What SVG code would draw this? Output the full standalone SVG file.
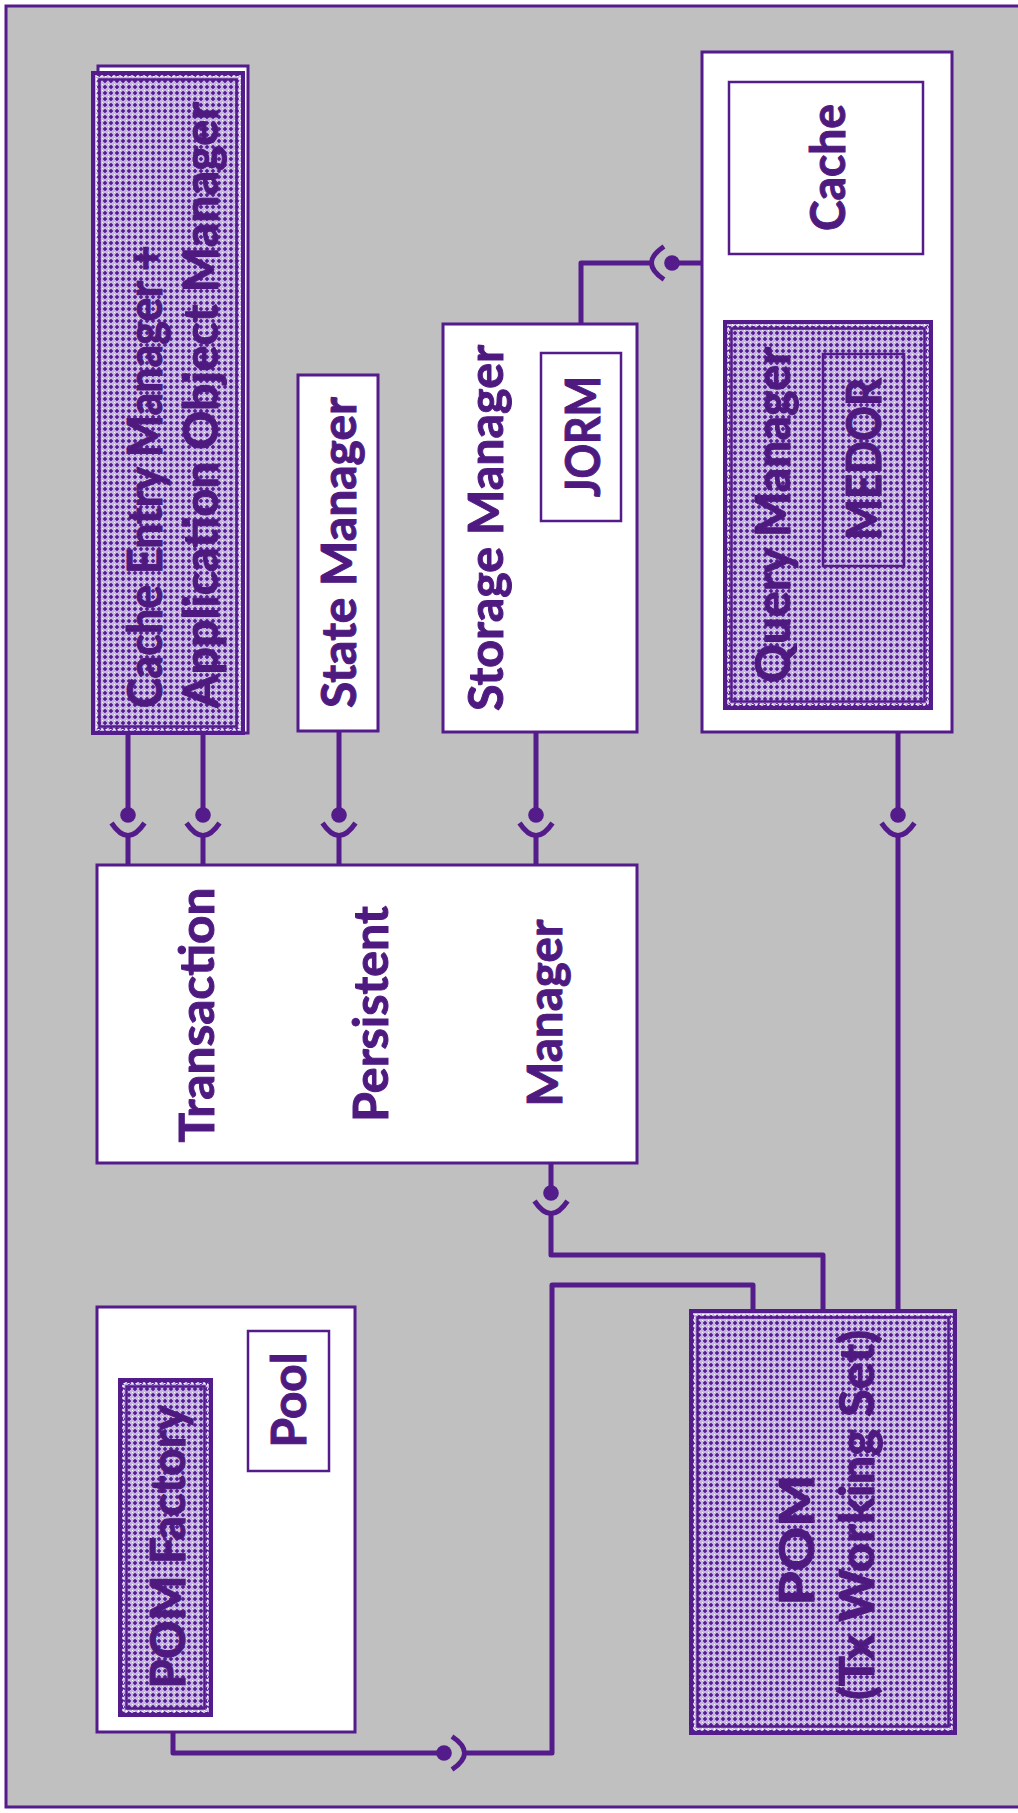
<svg xmlns="http://www.w3.org/2000/svg" xmlns:xlink="http://www.w3.org/1999/xlink" width="1018" height="1813" viewBox="0 0 1018 1813">
  <style>
    .box { fill: #ffffff; stroke: #541b8b; stroke-width: 3; }
    .hx { fill: url(#hatch); stroke: #541b8b; stroke-width: 4; }
    .hx-dash { fill: none; stroke: #ffffff; stroke-width: 1; stroke-dasharray: 2 2; }
    .hx-in { fill: none; stroke: #541b8b; stroke-width: 2.5; }
    .sub { fill: none; stroke: #541b8b; stroke-width: 2.5; }
    .wire { fill: none; stroke: #541b8b; stroke-width: 5; stroke-linejoin: round; }
    .lbl { font-family: Lato, "Open Sans", "Liberation Sans", sans-serif; font-weight: bold; font-size: 48px; fill: #4f1a80; stroke: #4f1a80; stroke-width: 1; }
  </style>
  <defs>
    <pattern id="hatch" width="6" height="6" patternUnits="userSpaceOnUse">
      <rect width="6" height="6" fill="#c6b4e2"/>
      <rect x="2" y="1" width="2" height="4" fill="#6c38a8"/>
      <rect x="1" y="2" width="4" height="2" fill="#6c38a8"/>
      <rect x="2" y="2" width="2" height="2" fill="#53208a"/>
      <rect x="0" y="0" width="1" height="1" fill="#ffffff"/>
    </pattern>
    <!-- ball-and-socket: ball at origin, socket opening toward it from +y -->
    <g id="sock">
      <circle cx="0" cy="0" r="7.8" fill="#541b8b"/>
      <path d="M-16.5,8 Q0,33 16.5,8" fill="none" stroke="#541b8b" stroke-width="5" stroke-linecap="butt"/>
    </g>
  </defs>

  <!-- frame -->
  <rect x="6" y="6" width="1030" height="1801" fill="#c0c0c0" stroke="#541b8b" stroke-width="3"/>

  <!-- connectors -->
  <g id="connectors">
    <path class="wire" d="M128,733 V815 M128,835 V865"/>
    <path class="wire" d="M203,733 V815 M203,835 V865"/>
    <path class="wire" d="M339,731 V815 M339,835 V865"/>
    <path class="wire" d="M536,732 V815 M536,835 V865"/>
    <path class="wire" d="M898,732 V815 M898,835 V1311"/>
    <path class="wire" d="M551,1163 V1193 M551,1212 V1255 H823 V1311"/>
    <path class="wire" d="M173,1732 V1753 H444 M463,1753 H552 V1285 H753 V1311"/>
    <path class="wire" d="M702,263 H672 M653,263 H581 V324"/>
    <use xlink:href="#sock" transform="translate(128,815)"/>
    <use xlink:href="#sock" transform="translate(203,815)"/>
    <use xlink:href="#sock" transform="translate(339,815)"/>
    <use xlink:href="#sock" transform="translate(536,815)"/>
    <use xlink:href="#sock" transform="translate(898,815)"/>
    <use xlink:href="#sock" transform="translate(551,1193)"/>
    <use xlink:href="#sock" transform="translate(444,1753) rotate(-90)"/>
    <use xlink:href="#sock" transform="translate(672,263) rotate(90)"/>
  </g>

  <!-- cache entry manager + application object manager -->
  <g id="cache-entry-manager">
    <rect class="box" x="98" y="66" width="150" height="667"/>
    <rect class="hx" x="93" y="73" width="150" height="660"/>
    <rect class="hx-dash" x="96.5" y="76.5" width="143" height="653"/>
    <rect class="hx-in" x="99.5" y="79.5" width="137" height="647"/>
    <text class="lbl" transform="translate(145,708) rotate(-90)" dy="0.36em" textLength="463" lengthAdjust="spacingAndGlyphs">Cache Entry Manager +</text>
    <text class="lbl" transform="translate(201,708) rotate(-90)" dy="0.36em" textLength="606" lengthAdjust="spacingAndGlyphs">Application Object Manager</text>
  </g>

  <g id="state-manager">
    <rect class="box" x="298" y="375" width="80" height="356"/>
    <text class="lbl" transform="translate(339,552.5) rotate(-90)" dy="0.36em" text-anchor="middle" textLength="311" lengthAdjust="spacingAndGlyphs">State Manager</text>
  </g>

  <g id="storage-manager">
    <rect class="box" x="443" y="324" width="194" height="408"/>
    <text class="lbl" transform="translate(486,528) rotate(-90)" dy="0.36em" text-anchor="middle" textLength="366" lengthAdjust="spacingAndGlyphs">Storage Manager</text>
    <g id="jorm">
      <rect class="sub" x="541" y="353" width="80" height="168"/>
      <text class="lbl" transform="translate(583,436.5) rotate(-90)" dy="0.36em" text-anchor="middle" textLength="121" lengthAdjust="spacingAndGlyphs">JORM</text>
    </g>
  </g>

  <g id="cache-module">
    <rect class="box" x="702" y="52" width="250" height="680"/>
    <g id="cache">
      <rect class="sub" x="729" y="82" width="194" height="172"/>
      <text class="lbl" transform="translate(828,167.5) rotate(-90)" dy="0.36em" text-anchor="middle" textLength="127" lengthAdjust="spacingAndGlyphs">Cache</text>
    </g>
    <g id="query-manager">
      <rect class="hx" x="725" y="322" width="206" height="386"/>
      <rect class="hx-dash" x="728.5" y="325.5" width="199" height="379"/>
      <rect class="hx-in" x="731.5" y="328.5" width="193" height="373"/>
      <text class="lbl" transform="translate(773,515) rotate(-90)" dy="0.36em" text-anchor="middle" textLength="336" lengthAdjust="spacingAndGlyphs">Query Manager</text>
      <g id="medor">
        <rect class="sub" x="823" y="354" width="81" height="212"/>
        <text class="lbl" transform="translate(864,459) rotate(-90)" dy="0.36em" text-anchor="middle" textLength="162" lengthAdjust="spacingAndGlyphs">MEDOR</text>
      </g>
    </g>
  </g>

  <g id="transaction-persistent-manager">
    <rect class="box" x="97" y="865" width="540" height="298"/>
    <text class="lbl" transform="translate(197,1015) rotate(-90)" dy="0.36em" text-anchor="middle" textLength="255" lengthAdjust="spacingAndGlyphs">Transaction</text>
    <text class="lbl" transform="translate(371,1014) rotate(-90)" dy="0.36em" text-anchor="middle" textLength="216" lengthAdjust="spacingAndGlyphs">Persistent</text>
    <text class="lbl" transform="translate(545,1013) rotate(-90)" dy="0.36em" text-anchor="middle" textLength="187" lengthAdjust="spacingAndGlyphs">Manager</text>
  </g>

  <g id="pom-factory-module">
    <rect class="box" x="97" y="1307" width="258" height="425"/>
    <g id="pool">
      <rect class="sub" x="248" y="1331" width="81" height="140"/>
      <text class="lbl" transform="translate(289,1400) rotate(-90)" dy="0.36em" text-anchor="middle" textLength="95" lengthAdjust="spacingAndGlyphs">Pool</text>
    </g>
    <g id="pom-factory">
      <rect class="hx" x="120" y="1380" width="91" height="335"/>
      <rect class="hx-dash" x="123.5" y="1383.5" width="84" height="328"/>
      <rect class="hx-in" x="126.5" y="1386.5" width="78" height="322"/>
      <text class="lbl" transform="translate(168,1547) rotate(-90)" dy="0.36em" text-anchor="middle" textLength="283" lengthAdjust="spacingAndGlyphs">POM Factory</text>
    </g>
  </g>

  <g id="pom">
    <rect class="hx" x="691" y="1311" width="264" height="422"/>
    <rect class="hx-dash" x="694.5" y="1314.5" width="257" height="415"/>
    <rect class="hx-in" x="697.5" y="1317.5" width="251" height="409"/>
    <text class="lbl" transform="translate(797,1540) rotate(-90)" dy="0.36em" text-anchor="middle" textLength="131" lengthAdjust="spacingAndGlyphs">POM</text>
    <text class="lbl" transform="translate(857,1515) rotate(-90)" dy="0.36em" text-anchor="middle" textLength="370" lengthAdjust="spacingAndGlyphs">(Tx Working Set)</text>
  </g>
</svg>
